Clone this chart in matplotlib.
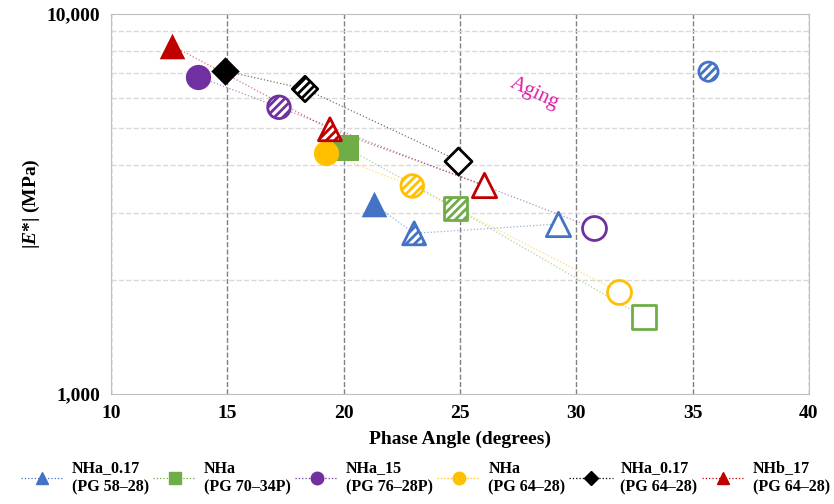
import matplotlib.pyplot as plt
from matplotlib.lines import Line2D
from matplotlib.ticker import FixedLocator, NullFormatter, FuncFormatter

plt.rcParams['font.family'] = 'Liberation Serif'
plt.rcParams['mathtext.fontset'] = 'custom'
plt.rcParams['mathtext.it'] = 'Liberation Serif:italic:bold'
plt.rcParams['mathtext.rm'] = 'Liberation Serif:bold'
plt.rcParams['hatch.linewidth'] = 2.0

# series: [unaged (filled), hatched, open]
labels = ['NHa_0.17\n(PG 58–28)', 'NHa\n(PG 70–34P)', 'NHa_15\n(PG 76–28P)',
          'NHa\n(PG 64–28)', 'NHa_0.17\n(PG 64–28)', 'NHb_17\n(PG 64–28)']
colors = ['#4472C4', '#70AD47', '#7030A0', '#FFC000', '#000000', '#C00000']
markers = ['^', 's', 'o', 'o', 'D', '^']

phase = [
    [21.3, 23.03, 29.21],
    [20.1, 24.81, 32.9],
    [13.75, 17.22, 30.76],
    [19.24, 22.95, 31.82],
    [14.9, 18.34, 24.93],
    [12.63, 19.41, 26.03],
]
modulus = [
    [3157, 2647, 2800],
    [4449, 3082, 1592],
    [6839, 5682, 2735],
    [4315, 3527, 1859],
    [7079, 6349, 4111],
    [8254, 4973, 3548],
]

# stray hatched blue circle
extra_x, extra_y = 35.68, 7050

fig = plt.figure(figsize=(8.34, 5.04), dpi=100)
ax = fig.add_axes([0.1331, 0.2183, 0.8369, 0.7539])

sizes = {'^': 340, 's': 330, 'o': 330, 'D': 210}

for i in range(6):
    c = colors[i]
    m = markers[i]
    xs, ys = phase[i], modulus[i]
    ax.plot(xs, ys, linestyle=':', color=c, lw=0.9, alpha=0.55, zorder=2)
    s = sizes[m]
    ax.scatter(xs[0], ys[0], s=s, marker=m, color=c, edgecolors=c, linewidths=0, zorder=3)
    ax.scatter(xs[1], ys[1], s=s * 0.8, marker=m, facecolors='white', edgecolors=c,
               hatch='////', linewidths=2, zorder=3)
    ax.scatter(xs[2], ys[2], s=s * 0.9, marker=m, facecolors='white', edgecolors=c,
               linewidths=2, zorder=3)

ax.scatter(extra_x, extra_y, s=190, marker='o', facecolors='white', edgecolors=colors[0],
           hatch='////', linewidths=2, zorder=3)

ax.text(28.2, 6194, 'Aging', color='#E020A8', fontsize=15, rotation=-25,
        ha='center', va='center')

ax.set_xlim(10, 40)
ax.set_yscale('log')
ax.set_ylim(1000, 10000)
ax.set_xticks(range(10, 41, 5))
ax.yaxis.set_major_locator(FixedLocator([1000, 10000]))
ax.yaxis.set_major_formatter(FuncFormatter(lambda v, p: f'{int(v):,}'))
ax.yaxis.set_minor_locator(FixedLocator(range(2000, 10000, 1000)))
ax.yaxis.set_minor_formatter(NullFormatter())
ax.tick_params(axis='both', which='both', length=0, labelsize=14, pad=8)
for lab in ax.get_xticklabels() + ax.get_yticklabels():
    lab.set_fontweight('bold')

ax.grid(True, axis='x', which='major', linestyle='--', color='#808080', lw=1)
ax.grid(True, axis='y', which='minor', linestyle='--', color='#D9D9D9', lw=1)
ax.set_axisbelow(True)
for sp in ax.spines.values():
    sp.set_color('#BFBFBF')

ax.set_xlabel('Phase Angle (degrees)', fontsize=14, fontweight='bold', labelpad=6)
ax.set_ylabel('|$\\mathit{E}$*| (MPa)', fontsize=14, fontweight='bold', labelpad=3)

handles = [Line2D([0], [0], color=colors[i], linestyle=':', lw=0.9, marker=markers[i],
                  markersize=9 if markers[i] != 'D' else 7, markerfacecolor=colors[i],
                  markeredgecolor=colors[i])
           for i in range(6)]
fig.legend(handles, labels, loc='center', bbox_to_anchor=(0.51, 0.052), ncol=6,
           frameon=False, prop={'weight': 'bold', 'size': 11.5}, handlelength=2.7,
           columnspacing=0.25, handletextpad=0.5)

fig.savefig('out.png', dpi=100)
